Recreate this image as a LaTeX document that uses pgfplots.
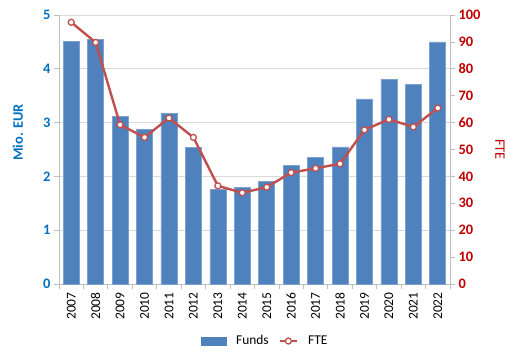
\documentclass[border=0pt]{standalone}
\usepackage{pgfplots}
\pgfplotsset{compat=1.18}
\usepackage{fontspec}
\setmainfont{Carlito}
\definecolor{barblue}{HTML}{4F81BD}
\definecolor{baredge}{HTML}{7EA1D0}
\definecolor{linered}{HTML}{C0504D}
\definecolor{axblue}{HTML}{0070C0}
\definecolor{axred}{HTML}{C00000}
\definecolor{gridgray}{HTML}{D9D9D9}
\definecolor{axgray}{HTML}{BFBFBF}
\begin{document}
\begin{tikzpicture}[x=1bp,y=1bp]
\useasboundingbox (0,0) rectangle (525,362);
\begin{axis}[
  at={(59bp,78bp)}, anchor=south west,
  scale only axis, width=391bp, height=269bp,
  xmin=-0.5, xmax=15.5, ymin=0, ymax=5,
  ytick={0,1,2,3,4,5},
  xtick={0,...,15},
  xticklabels={2007,2008,2009,2010,2011,2012,2013,2014,2015,2016,2017,2018,2019,2020,2021,2022},
  x tick label style={rotate=90, anchor=east, font=\fontsize{13.5}{15}\selectfont, text=black},
  major x tick style={draw=none},
  minor xtick={-0.5,0.5,...,15.5},
  minor x tick style={draw=axgray, thick},
  minor tick length=5bp,
  major tick length=5bp,
  tick align=outside,
  y tick style={draw=axgray, thick},
  y tick label style={font=\bfseries\fontsize{14.5}{16}\selectfont, text=axblue},
  /pgf/number format/assume math mode=true,
  ymajorgrids, grid style={gridgray, thick},
  axis x line*=bottom, axis y line*=left,
  axis line style={axgray, thick},
  ylabel={Mio. EUR},
  ylabel style={font=\bfseries\fontsize{14.5}{16}\selectfont, text=axblue, at={(axis description cs:-0.105,0.563)}, anchor=center},
  clip=false,
]
\addplot[ybar, bar width=16bp, fill=barblue, draw=baredge, line width=0.6bp] coordinates {
(0,4.51) (1,4.55) (2,3.11) (3,2.88) (4,3.17) (5,2.54) (6,1.76) (7,1.79)
(8,1.90) (9,2.21) (10,2.36) (11,2.55) (12,3.44) (13,3.81) (14,3.71) (15,4.50)
};
\end{axis}
\begin{axis}[
  at={(59bp,78bp)}, anchor=south west,
  scale only axis, width=391bp, height=269bp,
  xmin=-0.5, xmax=15.5, ymin=0, ymax=100,
  ytick={0,10,...,100},
  axis x line=none, axis y line*=right,
  axis line style={axgray, thick},
  tick align=outside, major tick length=5bp,
  y tick style={draw=axgray, thick},
  y tick label style={font=\bfseries\fontsize{14.5}{16}\selectfont, text=axred},
  /pgf/number format/assume math mode=true,
  ylabel={FTE},
  ylabel style={font=\fontsize{14.5}{16}\selectfont, text=axred, at={(axis description cs:1.128,0.50)}, anchor=center, rotate=180},
  legend columns=2,
  legend style={at={(axis description cs:0.527,-0.212)}, anchor=center, draw=none, fill=none,
    font=\fontsize{13.5}{15}\selectfont, column sep=8bp, inner sep=0pt},
  legend cell align=left,
  clip=false,
]
\addlegendimage{legend image code/.code={\fill[barblue] (0bp,-4bp) rectangle (25bp,4bp);}}
\addlegendentry{Funds}
\addplot[linered, line width=2.4bp, mark=*, mark size=3bp, mark options={fill=white, draw=linered, line width=1.3bp}] coordinates {
(0,97.3) (1,89.8) (2,59.2) (3,54.5) (4,61.7) (5,54.5) (6,36.5) (7,33.9)
(8,36.0) (9,41.4) (10,43.0) (11,44.7) (12,57.3) (13,61.2) (14,58.4) (15,65.4)
};
\addlegendentry{FTE}
\end{axis}
\end{tikzpicture}
\end{document}
